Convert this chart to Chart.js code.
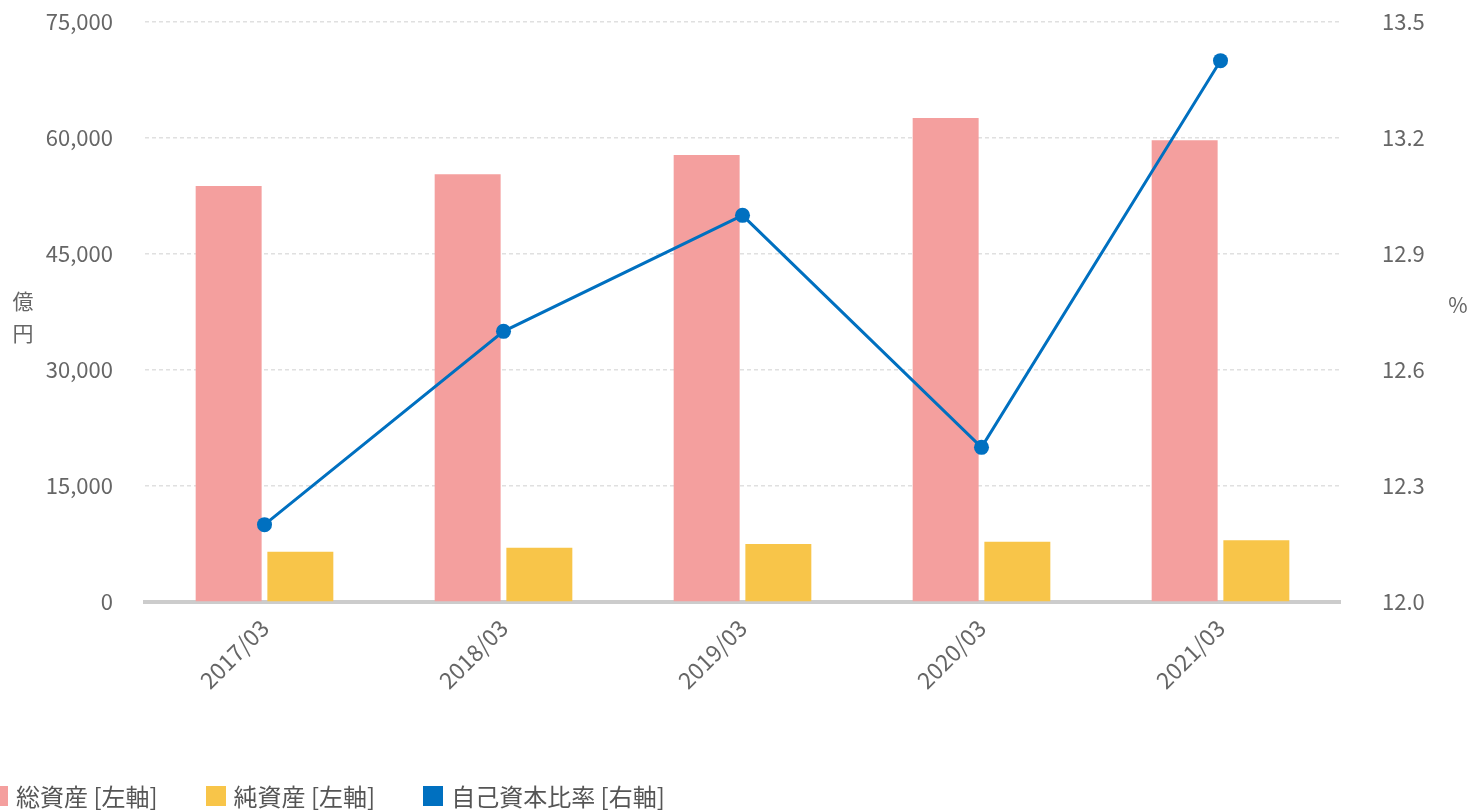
<!DOCTYPE html>
<html>
<head>
<meta charset="utf-8">
<script src="https://cdn.jsdelivr.net/npm/chart.js@4/dist/chart.umd.min.js"></script>
<style>
  html, body { margin: 0; padding: 0; background: #fff; overflow: hidden; }
  #wrap { position: relative; width: 1471px; height: 810px; }
  #legend { position: absolute; left: -12px; top: 778px; display: flex; font-family: "Noto Sans CJK JP", sans-serif; font-size: 24px; color: #555; }
  #legend .item { display: flex; align-items: center; margin-right: 48px; }
  #legend .box { width: 20px; height: 20px; margin-right: 8px; }
</style>
</head>
<body>
<div id="wrap">
  <canvas id="grafico" width="1471" height="810"></canvas>
  <div id="legend"></div>
</div>
<script>
var labels = ['2017/03', '2018/03', '2019/03', '2020/03', '2021/03'];
var totalAssets = [53800, 55300, 57800, 62600, 59700];
var netAssets = [6500, 7000, 7500, 7800, 8000];
var equityRatio = [12.2, 12.7, 13.0, 12.4, 13.4];
var seriesNames = ['総資産 [左軸]', '純資産 [左軸]', '自己資本比率 [右軸]'];

var fontFamily = '"Noto Sans CJK JP", "Noto Sans", sans-serif';
var textColor = '#666';

var axisTitles = {
    id: 'axisTitles',
    afterDraw: function(chart) {
        var ctx = chart.ctx;
        ctx.save();
        ctx.fillStyle = textColor;
        ctx.font = '21px ' + fontFamily;
        ctx.textAlign = 'center';
        ctx.textBaseline = 'middle';
        ctx.fillText('億', 23, 301);
        ctx.fillText('円', 23, 333);
        ctx.fillText('%', 1458, 305);
        ctx.restore();
    }
};

function noPad(scale) {
    scale.paddingTop = 0;
    scale.paddingBottom = 0;
}

var canvas = document.getElementById('grafico');
var chart = new Chart(canvas, {
    type: 'bar',
    data: {
        labels: labels,
        datasets: [
            {
                label: seriesNames[0],
                data: totalAssets,
                backgroundColor: '#f49f9e',
                yAxisID: 'y',
                order: 2,
                categoryPercentage: 0.6,
                barPercentage: 0.92
            },
            {
                label: seriesNames[1],
                data: netAssets,
                backgroundColor: '#f8c549',
                yAxisID: 'y',
                order: 2,
                categoryPercentage: 0.6,
                barPercentage: 0.92
            },
            {
                type: 'line',
                label: seriesNames[2],
                data: equityRatio,
                borderColor: '#0070c0',
                backgroundColor: '#0070c0',
                borderWidth: 3,
                pointRadius: 7.5,
                pointBackgroundColor: '#0070c0',
                pointBorderWidth: 0,
                tension: 0,
                yAxisID: 'y1',
                order: 1
            }
        ]
    },
    options: {
        responsive: false,
        animation: false,
        layout: { padding: { top: 22, left: 0, right: 0, bottom: 0 } },
        plugins: {
            legend: { display: false },
            tooltip: { enabled: false }
        },
        scales: {
            x: {
                grid: { display: false, drawTicks: false },
                border: { display: true, color: '#cccccc', width: 4 },
                ticks: {
                    color: textColor,
                    font: { family: fontFamily, size: 23 },
                    maxRotation: 45,
                    minRotation: 45,
                    padding: 12
                },
                afterFit: function(scale) { scale.height = 208; }
            },
            y: {
                position: 'left',
                min: 0,
                max: 75000,
                grid: { color: '#e0e0e0', lineWidth: 1.5, drawTicks: false },
                border: { display: false, dash: [4, 3] },
                ticks: {
                    stepSize: 15000,
                    color: textColor,
                    font: { family: fontFamily, size: 22 },
                    padding: 32,
                    callback: function(v) { return v.toLocaleString('en-US'); }
                },
                afterFit: function(scale) { scale.width = 145; noPad(scale); }
            },
            y1: {
                position: 'right',
                min: 12,
                max: 13.5,
                grid: { display: false, drawTicks: false },
                border: { display: false },
                ticks: {
                    stepSize: 0.3,
                    color: textColor,
                    font: { family: fontFamily, size: 22 },
                    padding: 42,
                    callback: function(v) { return v.toFixed(1); }
                },
                afterFit: function(scale) { scale.width = 131; noPad(scale); }
            }
        }
    },
    plugins: [axisTitles]
});

var legend = document.getElementById('legend');
chart.data.datasets.forEach(function(ds) {
    var item = document.createElement('div');
    item.className = 'item';
    var box = document.createElement('span');
    box.className = 'box';
    box.style.background = ds.backgroundColor;
    var txt = document.createElement('span');
    txt.textContent = ds.label;
    item.appendChild(box);
    item.appendChild(txt);
    legend.appendChild(item);
});
</script>
</body>
</html>
